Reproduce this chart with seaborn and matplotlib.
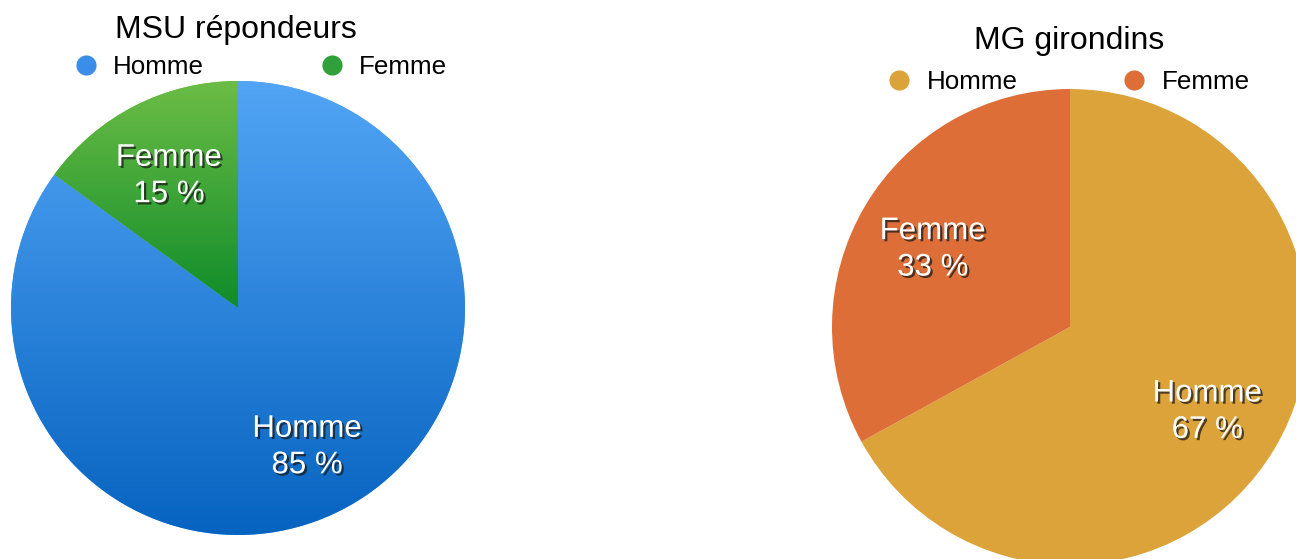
import numpy as np
import matplotlib
matplotlib.use("Agg")
import matplotlib.pyplot as plt
import matplotlib.patheffects as pe
import matplotlib.transforms as mtransforms
from matplotlib.colors import LinearSegmentedColormap
from matplotlib.lines import Line2D
import seaborn as sns

# data
categories = ["Homme", "Femme"]
msu_values = [85, 15]
mg_values = [67, 33]
msu_title = "MSU répondeurs"
mg_title = "MG girondins"

# colours (gradient top -> bottom for the MSU pie)
msu_grad = [("#52a5f5", "#0663c0"), ("#6cbd45", "#0f8c2a")]
mg_colors = ["#dca33a", "#dd6e38"]

sns.set_theme(style="white")
plt.rcParams["font.family"] = ["Liberation Sans", "DejaVu Sans"]
plt.rcParams["text.color"] = "black"

W, H = 1296, 559
fig = plt.figure(figsize=(W / 100, H / 100), dpi=100)


def px_axes(x0, y0, size):
    # x0, y0 = top-left corner in pixels, size = pie diameter
    return fig.add_axes([x0 / W, 1 - (y0 + size) / H, size / W, size / H])


shadow = [pe.SimplePatchShadow(offset=(1.6, -1.6), shadow_rgbFace="#1a1a1a", alpha=0.75),
          pe.Normal()]


def draw_pie(ax, values, colors, grads=None):
    wedges, _, autotexts = ax.pie(
        values, colors=colors, startangle=90, counterclock=False,
        autopct="%.0f %%", pctdistance=0.67, radius=1,
        wedgeprops=dict(linewidth=0),
        textprops=dict(color="white", fontsize=22.5, linespacing=1.28))
    # nudge labels a few pixels down
    shifted = mtransforms.offset_copy(ax.transData, fig=fig, x=0, y=-3.5, units="dots")
    for t, name in zip(autotexts, categories):
        t.set_text(f"{name}\n{t.get_text()}")
        t.set_transform(shifted)
        t.set_path_effects(shadow)
        t.set_zorder(5)
    if grads:
        for w, (c_top, c_bot) in zip(wedges, grads):
            verts = w.get_path().vertices
            ymin, ymax = verts[:, 1].min(), verts[:, 1].max()
            cmap = LinearSegmentedColormap.from_list("g", [c_top, c_bot])
            grad = np.linspace(0, 1, 256).reshape(-1, 1)
            im = ax.imshow(grad, cmap=cmap, aspect="auto",
                           extent=[-1, 1, ymin, ymax], origin="upper", zorder=2)
            im.set_clip_path(w)
    ax.set_xlim(-1, 1)
    ax.set_ylim(-1, 1)
    ax.set_axis_off()
    return wedges


ax1 = px_axes(11, 81, 454)
draw_pie(ax1, msu_values, [g[0] for g in msu_grad], grads=msu_grad)

ax2 = px_axes(832, 89, 476)
draw_pie(ax2, mg_values, mg_colors)

# titles
fig.text(236 / W, 1 - 30 / H, msu_title, ha="center", va="center", fontsize=23, color="black")
fig.text(1069 / W, 1 - 41 / H, mg_title, ha="center", va="center", fontsize=23, color="black")


def add_legend(ax, colors, cx, cy, spacing):
    handles = [Line2D([], [], marker="o", linestyle="none", markersize=14.5,
                      markerfacecolor=c, markeredgewidth=0) for c in colors]
    leg = ax.legend(handles, categories, ncol=2, loc="center", frameon=False,
                    bbox_to_anchor=(cx / W, 1 - cy / H), bbox_transform=fig.transFigure,
                    fontsize=18.7, handlelength=1.0, handletextpad=0.55,
                    columnspacing=spacing, borderpad=0, borderaxespad=0)
    for t in leg.get_texts():
        t.set_color("black")


add_legend(ax1, ["#3a8de8", "#2fa03a"], 260, 67, 4.4)
add_legend(ax2, mg_colors, 1068, 82, 4.0)

fig.savefig("out.png", dpi=100)
